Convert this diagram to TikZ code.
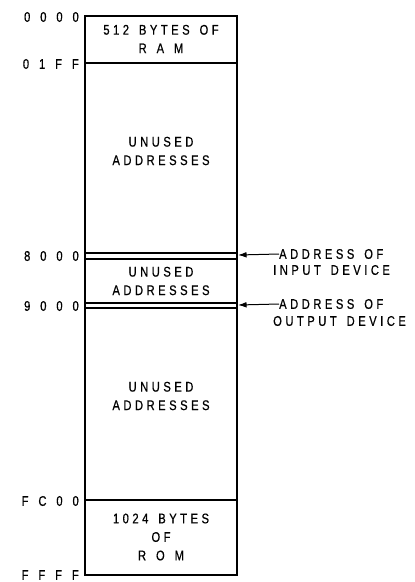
\documentclass[tikz,border=0pt]{standalone}
\usepackage{fontspec}
\newfontfamily\mapfont{Liberation Sans}[FakeStretch=0.8, LetterSpace=25, FakeBold=0.6, WordSpace=1.5]
\usetikzlibrary{arrows.meta,positioning}

\begin{document}
\begin{tikzpicture}[
  x=1pt, y=-1pt,
  font=\mapfont\fontsize{14}{18.5}\selectfont,
  addr/.style={anchor=east, inner sep=0pt},
  region/.style={align=center, inner sep=0pt},
  border/.style={line width=1.8pt},
  divider/.style={line width=1.3pt},
  pointer/.style={-{Latex[length=3mm, width=2mm]}, line width=1pt},
  devlabel/.style={anchor=west, inner sep=0pt}
]
\useasboundingbox (0,0) rectangle (415,582);

% memory map outline and boundaries
\draw[border] (85,16) rectangle (237,575);
\draw[divider] (85,63) -- (237,63);
\draw[divider] (85,253) -- (237,253);
\draw[divider] (85,259) -- (237,259);
\draw[divider] (85,303) -- (237,303);
\draw[divider] (85,308) -- (237,308);
\draw[divider] (85,500) -- (237,500);

% addresses
\node[addr] (a0000) at (79,17) {0 0 0 0};
\node[addr] (a01ff) at (79,64) {0 1 F F};
\node[addr] (a8000) at (79,256) {8 0 0 0};
\node[addr] (a9000) at (79,306) {9 0 0 0};
\node[addr] (afc00) at (79,501) {F C 0 0};
\node[addr] (affff) at (79,575) {F F F F};

% contents
\node[region] (ram) at (161,39) {512 BYTES OF\\R A M};
\node[region] (unused1) at (161,151) {UNUSED\\ADDRESSES};
\node[region] (unused2) at (161,281) {UNUSED\\ADDRESSES};
\node[region] (unused3) at (161,396) {UNUSED\\ADDRESSES};
\node[region] (rom) at (161,537) {1024 BYTES\\OF\\R O M};

% device ports
\coordinate (inport) at (238,255);
\coordinate (outport) at (238,305);
\node[devlabel] (inlab) at (279,254) {ADDRESS OF};
\node[devlabel] (inlab2) at (273,270) {INPUT DEVICE};
\node[devlabel] (outlab) at (279,304) {ADDRESS OF};
\node[devlabel] (outlab2) at (273,321) {OUTPUT DEVICE};
\draw[pointer] (inlab.west) -- (inport);
\draw[pointer] (outlab.west) -- (outport);
\end{tikzpicture}
\end{document}
